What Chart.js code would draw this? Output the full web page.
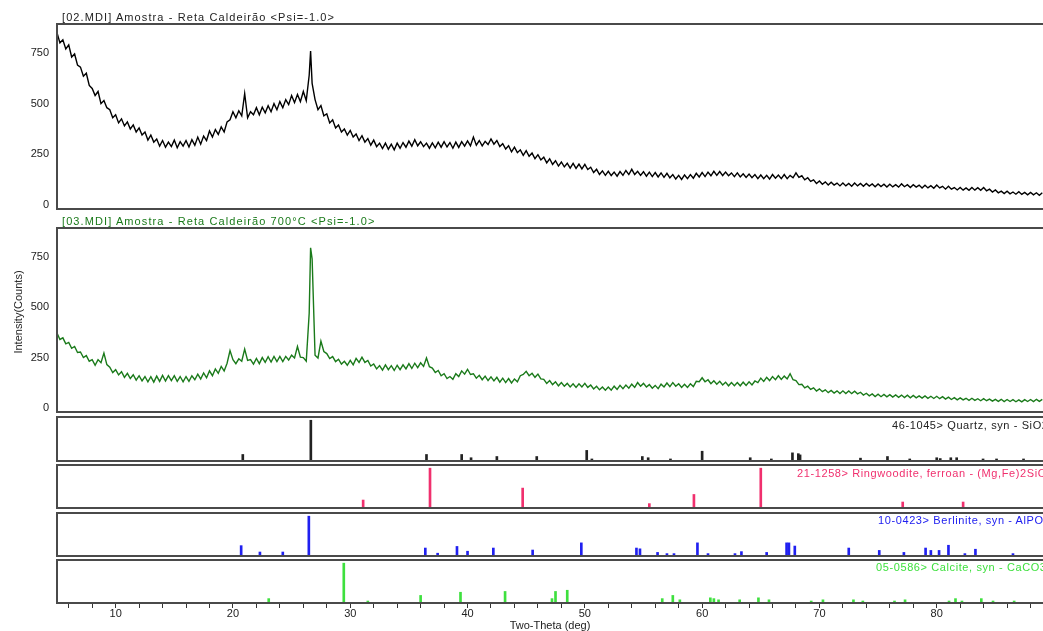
<!DOCTYPE html>
<html>
<head>
<meta charset="utf-8">
<script src="https://cdn.jsdelivr.net/npm/chart.js@4.4.1/dist/chart.umd.min.js"></script>
<style>
  body { margin: 0; background: #fff; }
  #wrap { position: relative; width: 1043px; height: 631px; overflow: hidden; background: #fff;
          font-family: "Liberation Sans", Arial, sans-serif; font-size: 11px; }
  #wrap canvas { position: absolute; left: 0; }
  .lbl { position: absolute; white-space: nowrap; line-height: 12px; letter-spacing: 0.6px; }
  .ttl { letter-spacing: 1.1px; }
</style>
</head>
<body>
<div id="wrap">
  <canvas id="p1" width="1043" height="189" style="top:22px"></canvas>
  <canvas id="p2" width="1043" height="188" style="top:226px"></canvas>
  <canvas id="pq" width="1043" height="48" style="top:415px"></canvas>
  <canvas id="pr" width="1043" height="47" style="top:463px"></canvas>
  <canvas id="pb" width="1043" height="47" style="top:511px"></canvas>
  <canvas id="pc" width="1043" height="73" style="top:558px"></canvas>

  <div class="lbl ttl" style="left:62px;top:11px;color:#222">[02.MDI] Amostra - Reta Caldeirão &lt;Psi=-1.0&gt;</div>
  <div class="lbl ttl" style="left:62px;top:215px;color:#1a7a1a">[03.MDI] Amostra - Reta Caldeirão 700°C &lt;Psi=-1.0&gt;</div>
  <div class="lbl" style="left:-32px;top:306px;color:#222;transform:rotate(-90deg);width:100px;text-align:center;letter-spacing:0">Intensity(Counts)</div>
  <div class="lbl" style="left:892px;top:419px;color:#222">46-1045&gt; Quartz, syn - SiO2</div>
  <div class="lbl" style="left:797px;top:467px;color:#f0306e">21-1258&gt; Ringwoodite, ferroan - (Mg,Fe)2SiO4</div>
  <div class="lbl" style="left:878px;top:514px;color:#2020f0">10-0423&gt; Berlinite, syn - AlPO4</div>
  <div class="lbl" style="left:876px;top:561px;color:#3ee03e">05-0586&gt; Calcite, syn - CaCO3</div>
</div>
<script>
// 2-theta range and tick labels
var thetaMin = 5, thetaMax = 89.06
var xTicks = [6,8,10,12,14,16,18,20,22,24,26,28,30,32,34,36,38,40,42,44,46,48,50,52,54,56,58,60,62,64,66,68,70,72,74,76,78,80,82,84,86,88]
var xTickLabels = [10,20,30,40,50,60,70,80]
var yTicks = [0,250,500,750]

// measured 2-theta positions (both scans)
var scanTheta = [
  5,5.25,5.5,5.75, 6,6.25,6.5,6.75, 7,7.25,7.5,7.75, 8,8.25,8.5,8.75, 9,9.25,9.5,9.75,
  10,10.25,10.5,10.75, 11,11.25,11.5,11.75, 12,12.25,12.5,12.75, 13,13.25,13.5,13.75, 14,14.25,14.5,14.75,
  15,15.25,15.5,15.75, 16,16.25,16.5,16.75, 17,17.25,17.5,17.75, 18,18.25,18.5,18.75, 19,19.25,19.5,19.75,
  20,20.25,20.5,20.75, 21,21.25,21.5,21.75, 22,22.25,22.5,22.75, 23,23.25,23.5,23.75, 24,24.25,24.5,24.75,
  25,25.25,25.5,25.75, 26,26.25,26.5,26.62,26.75, 27,27.25,27.5,27.75, 28,28.25,28.5,28.75, 29,29.25,29.5,29.75,
  30,30.25,30.5,30.75, 31,31.25,31.5,31.75, 32,32.25,32.5,32.75, 33,33.25,33.5,33.75, 34,34.25,34.5,34.75,
  35,35.25,35.5,35.75, 36,36.25,36.5,36.75, 37,37.25,37.5,37.75, 38,38.25,38.5,38.75, 39,39.25,39.5,39.75,
  40,40.25,40.5,40.75, 41,41.25,41.5,41.75, 42,42.25,42.5,42.75, 43,43.25,43.5,43.75, 44,44.25,44.5,44.75,
  45,45.25,45.5,45.75, 46,46.25,46.5,46.75, 47,47.25,47.5,47.75, 48,48.25,48.5,48.75, 49,49.25,49.5,49.75,
  50,50.25,50.5,50.75, 51,51.25,51.5,51.75, 52,52.25,52.5,52.75, 53,53.25,53.5,53.75, 54,54.25,54.5,54.75,
  55,55.25,55.5,55.75, 56,56.25,56.5,56.75, 57,57.25,57.5,57.75, 58,58.25,58.5,58.75, 59,59.25,59.5,59.75,
  60,60.25,60.5,60.75, 61,61.25,61.5,61.75, 62,62.25,62.5,62.75, 63,63.25,63.5,63.75, 64,64.25,64.5,64.75,
  65,65.25,65.5,65.75, 66,66.25,66.5,66.75, 67,67.25,67.5,67.75, 68,68.25,68.5,68.75, 69,69.25,69.5,69.75,
  70,70.25,70.5,70.75, 71,71.25,71.5,71.75, 72,72.25,72.5,72.75, 73,73.25,73.5,73.75, 74,74.25,74.5,74.75,
  75,75.25,75.5,75.75, 76,76.25,76.5,76.75, 77,77.25,77.5,77.75, 78,78.25,78.5,78.75, 79,79.25,79.5,79.75,
  80,80.25,80.5,80.75, 81,81.25,81.5,81.75, 82,82.25,82.5,82.75, 83,83.25,83.5,83.75, 84,84.25,84.5,84.75,
  85,85.25,85.5,85.75, 86,86.25,86.5,86.75, 87,87.25,87.5,87.75, 88,88.25,88.5,88.75, 89
]

// [02.MDI] raw sample (black)
var blackCounts = [
  850,800,815,770, 790,730,745,690, 680,635,650,590, 575,540,560,500, 515,480,470,430,
  445,405,425,390, 410,375,395,360, 380,345,360,320, 345,310,325,290, 318,285,310,288,
  320,282,312,290, 318,286,322,295, 335,300,340,318, 365,335,372,348, 385,360,410,420,
  460,430,465,440, 550,430,460,445, 480,445,482,455, 490,460,500,470, 510,480,520,495,
  540,505,545,510, 560,515,640,760,600, 520,470,490,440, 450,405,420,380, 395,360,375,345,
  368,335,350,318, 342,310,328,295, 320,288,305,278, 305,275,300,272, 305,280,308,285,
  315,290,322,292, 312,288,305,280, 306,282,310,285, 312,286,308,280, 310,284,312,290,
  316,292,335,295, 318,292,314,298, 326,300,318,288, 302,276,292,262, 285,258,272,245,
  268,240,256,228, 248,222,236,208, 228,200,218,192, 212,188,206,182, 205,180,202,178,
  200,175,186,160, 176,150,168,146, 166,145,162,142, 165,146,170,150, 176,150,166,146,
  164,142,162,140, 160,138,158,136, 156,134,150,128, 146,126,148,130, 150,132,156,138,
  160,140,162,144, 166,146,165,145, 162,144,158,140, 158,138,154,136, 152,134,150,130,
  148,130,146,128, 150,132,148,130, 150,130,146,134, 158,136,144,124, 134,116,124,106,
  118,102,114,98, 112,98,108,94, 108,94,106,92, 108,94,106,92, 106,93,104,90,
  104,91,102,88, 102,89,100,88, 104,90,100,86, 100,88,98,84, 97,84,95,82,
  98,84,92,78, 92,78,86,74, 86,73,84,72, 86,73,85,72, 86,70,78,64,
  74,60,68,56, 68,55,64,53, 65,52,62,50, 62,50,60,48, 60
]

// [03.MDI] sample after 700 °C (green)
var greenCounts = [
  372,340,348,318, 325,296,305,275, 278,250,260,232, 240,212,240,225, 272,215,202,176,
  190,164,180,152, 172,146,165,138, 160,134,156,130, 155,128,158,132, 162,134,160,136,
  160,132,156,130, 156,132,160,140, 168,144,174,150, 184,160,194,172, 206,184,222,285,
  240,220,244,232, 292,236,240,218, 246,220,250,226, 254,228,256,230, 256,230,256,238,
  262,248,305,252, 250,232,470,795,740, 262,248,332,280, 270,245,255,230, 242,218,232,212,
  236,214,246,226, 252,226,236,208, 218,194,210,188, 214,190,210,186, 212,190,214,194,
  220,196,222,200, 224,206,248,205, 198,176,186,160, 170,146,156,142, 170,156,184,168,
  192,166,170,148, 162,140,158,136, 154,134,152,128, 148,126,146,124, 144,130,160,166,
  182,160,172,152, 168,144,142,122, 136,116,130,110, 126,108,122,104, 120,102,120,104,
  122,102,114,94, 108,90,104,88, 104,88,108,92, 112,96,114,98, 118,102,126,108,
  122,104,116,98, 112,96,118,104, 124,106,126,108, 120,102,118,102, 120,106,132,130,
  150,130,140,120, 135,118,132,114, 128,110,126,110, 126,110,128,112, 130,114,134,126,
  148,132,152,136, 156,140,160,142, 158,144,170,140, 136,116,118,100, 108,92,100,84,
  95,81,90,76, 87,74,85,72, 85,72,84,71, 83,70,78,64, 73,60,70,57,
  68,56,67,55, 66,54,65,53, 64,52,63,50, 62,50,60,49, 60,48,58,47,
  58,46,56,44, 54,42,51,40, 50,40,48,38, 48,38,46,36, 46,36,44,34,
  43,33,43,32, 42,32,41,31, 40,30,41,32, 42,32,43,33, 43
]

// reference patterns (relative intensity, %)
var quartzTheta = [20.84,26.64,36.5,39.5,40.3,42.5,45.9,50.16,50.6,54.9,55.4,57.3,60.0,64.1,65.9,67.7,68.2,68.35,73.5,75.8,77.7,80.0,80.3,81.2,81.7,83.95,85.1,87.4]
var quartzRel = [16,100,16,16,8,11,11,26,5,11,8,5,24,8,5,20,18,15,7,11,5,8,6,8,8,5,5,5]
var ringTheta = [31.1,36.8,44.7,55.5,59.3,65.0,77.1,82.25]
var ringRel = [20,100,50,11,34,100,15,15]
var berlTheta = [20.7,22.3,24.25,26.47,36.4,37.45,39.1,40.0,42.2,45.55,49.7,54.4,54.7,56.2,57.0,57.6,59.6,60.5,62.8,63.35,65.5,67.2,67.4,67.9,72.5,75.1,77.2,79.05,79.5,80.2,81.0,82.4,83.3,86.5]
var berlRel = [26,10,10,100,20,7,24,12,20,15,33,20,18,9,6,6,33,6,6,11,9,33,33,25,20,14,9,20,14,14,27,6,17,6]
var calcTheta = [23.05,29.45,31.5,36.0,39.4,43.2,47.2,47.5,48.5,56.6,57.5,58.1,60.7,61.0,61.4,63.2,64.8,65.7,69.3,70.3,72.9,73.7,76.4,77.3,81.05,81.6,82.15,83.8,84.8,86.6]
var calcRel = [11,100,5,19,27,29,11,29,32,11,19,8,13,11,8,8,13,8,5,8,8,5,5,8,5,11,5,11,5,5]

var FONT = {family: '"Liberation Sans", Arial, sans-serif', size: 11, lineHeight: 1}

function pairs(xs, ys) {
  return xs.map(function(x, i) { return {x: x, y: ys[i]} })
}

// left/top/bottom frame round each panel
var frame = {
  id: 'frame',
  afterDraw: function(chart) {
    var a = chart.chartArea, ctx = chart.ctx
    ctx.save()
    ctx.strokeStyle = '#4a4a4a'
    ctx.lineWidth = 2
    ctx.beginPath()
    ctx.moveTo(a.right + 2, a.top)
    ctx.lineTo(a.left, a.top)
    ctx.lineTo(a.left, a.bottom)
    ctx.lineTo(a.right + 2, a.bottom)
    ctx.stroke()
    ctx.restore()
  }
}

function xScale(showAxis) {
  var s = {type: 'linear', min: thetaMin, max: thetaMax, offset: false, display: showAxis}
  if (showAxis) {
    s.border = {display: false}
    s.grid = {drawOnChartArea: false, drawTicks: true, tickLength: 5, color: '#333', offset: false}
    s.ticks = {autoSkip: false, maxRotation: 0, padding: 0, color: '#222', font: FONT,
      callback: function(v) { return xTickLabels.indexOf(v) >= 0 ? String(v) : '' }}
    s.afterBuildTicks = function(axis) { axis.ticks = xTicks.map(function(v) { return {value: v} }) }
    s.afterFit = function(axis) { axis.height = 28; axis.paddingLeft = 0; axis.paddingRight = 0 }
    s.title = {display: true, text: 'Two-Theta (deg)', color: '#222', font: FONT, padding: {top: 0, bottom: 0}}
  }
  return s
}

// y axis of fixed width, no extra padding from its labels
function fitY(axis) {
  axis.width = 57
  axis.paddingTop = 0
  axis.paddingBottom = 0
}

function patternChart(id, ys, color) {
  return new Chart(document.getElementById(id), {
    type: 'line',
    data: {datasets: [{data: pairs(scanTheta, ys), borderColor: color, borderWidth: 1.4, pointRadius: 0, tension: 0}]},
    options: {
      responsive: false, animation: false, devicePixelRatio: 1,
      layout: {autoPadding: false, padding: {top: 2, bottom: 2, left: 0, right: 0}},
      plugins: {legend: {display: false}, tooltip: {enabled: false}},
      scales: {
        x: xScale(false),
        y: {min: -20, max: 893, border: {display: false}, grid: {display: false, drawTicks: false},
          ticks: {padding: 8, color: '#222', font: FONT},
          afterBuildTicks: function(axis) { axis.ticks = yTicks.map(function(v) { return {value: v} }) },
          afterFit: fitY}
      }
    },
    plugins: [frame]
  })
}

function stickChart(id, xs, ys, color, bottom) {
  return new Chart(document.getElementById(id), {
    type: 'bar',
    data: {datasets: [{data: pairs(xs, ys), backgroundColor: color, barThickness: 2}]},
    options: {
      responsive: false, animation: false, devicePixelRatio: 1,
      layout: {autoPadding: false, padding: {top: 2, bottom: bottom ? 0 : 2, left: 0, right: 0}},
      plugins: {legend: {display: false}, tooltip: {enabled: false}},
      scales: {
        x: xScale(bottom),
        y: {min: 0, max: 108, border: {display: false}, grid: {display: false, drawTicks: false},
          ticks: {display: false}, afterFit: fitY}
      }
    },
    plugins: [frame]
  })
}

patternChart('p1', blackCounts, '#000000')
patternChart('p2', greenCounts, '#1a7a1a')
stickChart('pq', quartzTheta, quartzRel, '#222222', false)
stickChart('pr', ringTheta, ringRel, '#f0306e', false)
stickChart('pb', berlTheta, berlRel, '#2020f0', false)
stickChart('pc', calcTheta, calcRel, '#3ee03e', true)
</script>
</body>
</html>
